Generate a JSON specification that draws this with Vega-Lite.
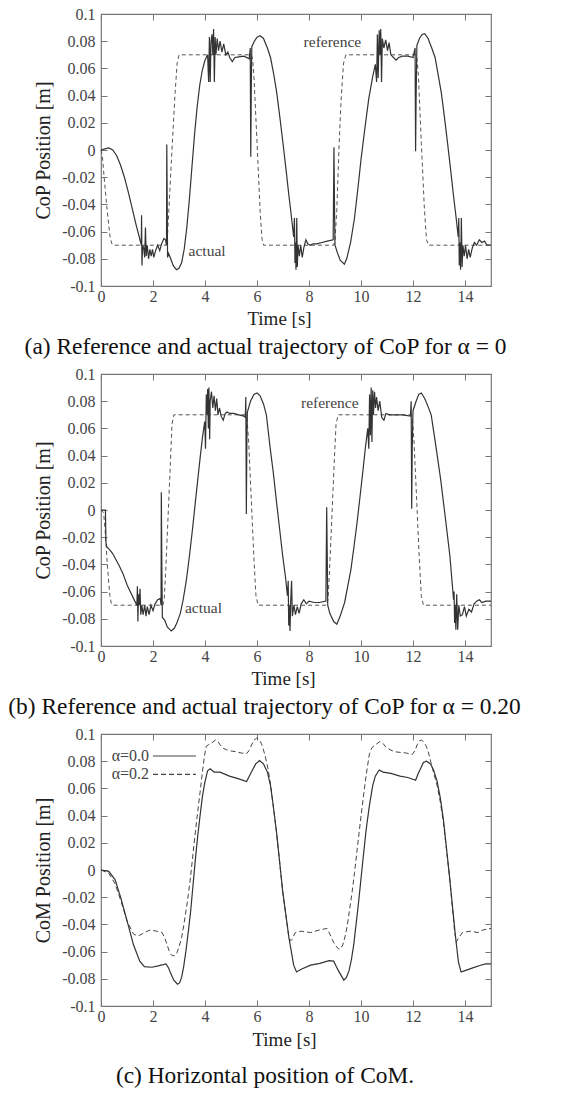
{
"$schema": "https://vega.github.io/schema/vega-lite/v6.json",
"padding": {"left": 7, "top": 5, "right": 5, "bottom": 5},
"spacing": 6,
"config": {
  "font": "Liberation Serif",
  "view": {"stroke": "#777", "strokeWidth": 1.2},
  "axis": {"labelFont": "Liberation Serif", "titleFont": "Liberation Serif", "labelFontSize": 16, "titleFontSize": 19, "labelColor": "#444", "titleColor": "#222", "titleFontWeight": "normal", "tickColor": "#777", "tickWidth": 1, "grid": false, "domain": false},
  "title": {"font": "Liberation Serif", "fontSize": 23.4, "fontWeight": "normal", "color": "#111"}
},
"datasets": {
"a_ref": [
{"t":0,"v":0},{"t":0.05,"v":-0.004},{"t":0.12,"v":-0.02},{"t":0.24,"v":-0.045},{"t":0.35,"v":-0.064},{"t":0.42,"v":-0.069},{"t":0.48,"v":-0.07},
{"t":2.5,"v":-0.07},{"t":2.55,"v":-0.066},{"t":2.61,"v":-0.044},{"t":2.73,"v":0.0},{"t":2.85,"v":0.042},{"t":2.93,"v":0.064},{"t":3.0,"v":0.07},
{"t":5.78,"v":0.07},{"t":5.83,"v":0.067},{"t":5.88,"v":0.055},{"t":6.0,"v":0.006},{"t":6.12,"v":-0.045},{"t":6.19,"v":-0.065},{"t":6.25,"v":-0.07},
{"t":8.95,"v":-0.07},{"t":9.0,"v":-0.066},{"t":9.07,"v":-0.044},{"t":9.15,"v":0.0},{"t":9.24,"v":0.039},{"t":9.33,"v":0.064},{"t":9.42,"v":0.07},
{"t":12.12,"v":0.07},{"t":12.16,"v":0.066},{"t":12.21,"v":0.054},{"t":12.32,"v":0.005},{"t":12.44,"v":-0.044},{"t":12.52,"v":-0.066},{"t":12.6,"v":-0.07},
{"t":15,"v":-0.07}
],
"a_act": [
{"t":0,"v":0},{"t":0.15,"v":0.0008},{"t":0.3,"v":0.0015},{"t":0.45,"v":0.0},{"t":0.6,"v":-0.004},{"t":0.75,"v":-0.011},{"t":0.9,"v":-0.02},{"t":1.05,"v":-0.031},{"t":1.2,"v":-0.043},{"t":1.35,"v":-0.055},{"t":1.5,"v":-0.066},{"t":1.55,"v":-0.07},
{"t":1.56,"v":-0.048},{"t":1.575,"v":-0.085},{"t":1.6,"v":-0.07},{"t":1.64,"v":-0.072},{"t":1.68,"v":-0.079},{"t":1.71,"v":-0.057},{"t":1.74,"v":-0.078},{"t":1.78,"v":-0.07},{"t":1.83,"v":-0.08},{"t":1.88,"v":-0.073},{"t":1.93,"v":-0.078},{"t":1.98,"v":-0.073},{"t":2.03,"v":-0.079},{"t":2.1,"v":-0.074},{"t":2.18,"v":-0.07},{"t":2.26,"v":-0.074},{"t":2.33,"v":-0.069},{"t":2.42,"v":-0.065},{"t":2.48,"v":-0.066},{"t":2.52,"v":-0.07},
{"t":2.53,"v":0.004},{"t":2.545,"v":-0.035},{"t":2.56,"v":-0.079},{"t":2.6,"v":-0.076},{"t":2.68,"v":-0.08},{"t":2.78,"v":-0.085},{"t":2.9,"v":-0.088},{"t":3.0,"v":-0.087},{"t":3.1,"v":-0.083},{"t":3.2,"v":-0.073},{"t":3.3,"v":-0.057},{"t":3.4,"v":-0.036},{"t":3.5,"v":-0.012},{"t":3.6,"v":0.012},{"t":3.7,"v":0.032},{"t":3.8,"v":0.048},{"t":3.9,"v":0.059},{"t":4.0,"v":0.066},{"t":4.1,"v":0.07},
{"t":4.14,"v":0.05},{"t":4.17,"v":0.083},{"t":4.2,"v":0.05},{"t":4.23,"v":0.079},{"t":4.27,"v":0.085},{"t":4.3,"v":0.07},{"t":4.33,"v":0.089},{"t":4.36,"v":0.05},{"t":4.39,"v":0.083},{"t":4.42,"v":0.07},{"t":4.47,"v":0.082},{"t":4.52,"v":0.073},{"t":4.58,"v":0.08},{"t":4.65,"v":0.072},{"t":4.72,"v":0.078},{"t":4.8,"v":0.07},{"t":4.88,"v":0.072},{"t":4.95,"v":0.068},{"t":5.05,"v":0.065},{"t":5.15,"v":0.068},{"t":5.3,"v":0.0685},{"t":5.5,"v":0.069},{"t":5.7,"v":0.067},
{"t":5.74,"v":0.075},{"t":5.76,"v":-0.005},{"t":5.78,"v":0.045},{"t":5.8,"v":0.076},{"t":5.9,"v":0.08},{"t":6.0,"v":0.083},{"t":6.12,"v":0.084},{"t":6.25,"v":0.082},{"t":6.4,"v":0.075},{"t":6.52,"v":0.068},{"t":6.65,"v":0.055},{"t":6.76,"v":0.042},{"t":6.88,"v":0.024},{"t":7.0,"v":0.005},{"t":7.12,"v":-0.015},{"t":7.23,"v":-0.034},{"t":7.33,"v":-0.05},{"t":7.41,"v":-0.064},
{"t":7.44,"v":-0.05},{"t":7.46,"v":-0.083},{"t":7.48,"v":-0.068},{"t":7.5,"v":-0.088},{"t":7.53,"v":-0.05},{"t":7.55,"v":-0.086},{"t":7.58,"v":-0.07},{"t":7.63,"v":-0.078},{"t":7.68,"v":-0.07},{"t":7.74,"v":-0.079},{"t":7.8,"v":-0.072},{"t":7.88,"v":-0.066},{"t":7.95,"v":-0.069},{"t":8.05,"v":-0.07},{"t":8.15,"v":-0.069},{"t":8.3,"v":-0.069},{"t":8.5,"v":-0.068},{"t":8.7,"v":-0.067},{"t":8.93,"v":-0.066},
{"t":8.96,"v":0.002},{"t":8.98,"v":-0.04},{"t":9.0,"v":-0.07},{"t":9.1,"v":-0.076},{"t":9.2,"v":-0.081},{"t":9.36,"v":-0.084},{"t":9.45,"v":-0.08},{"t":9.6,"v":-0.068},{"t":9.75,"v":-0.05},{"t":9.9,"v":-0.025},{"t":10.0,"v":-0.007},{"t":10.15,"v":0.016},{"t":10.3,"v":0.038},{"t":10.45,"v":0.054},{"t":10.55,"v":0.063},
{"t":10.6,"v":0.05},{"t":10.63,"v":0.085},{"t":10.66,"v":0.053},{"t":10.7,"v":0.088},{"t":10.73,"v":0.07},{"t":10.76,"v":0.089},{"t":10.79,"v":0.05},{"t":10.82,"v":0.082},{"t":10.88,"v":0.075},{"t":10.95,"v":0.081},{"t":11.02,"v":0.073},{"t":11.08,"v":0.079},{"t":11.15,"v":0.07},{"t":11.25,"v":0.068},{"t":11.35,"v":0.066},{"t":11.45,"v":0.068},{"t":11.6,"v":0.069},{"t":11.8,"v":0.069},{"t":12.0,"v":0.068},
{"t":12.08,"v":0.075},{"t":12.1,"v":-0.001},{"t":12.12,"v":0.04},{"t":12.15,"v":0.077},{"t":12.25,"v":0.082},{"t":12.35,"v":0.085},{"t":12.45,"v":0.0855},{"t":12.58,"v":0.082},{"t":12.72,"v":0.075},{"t":12.85,"v":0.068},{"t":12.97,"v":0.055},{"t":13.09,"v":0.042},{"t":13.21,"v":0.024},{"t":13.33,"v":0.005},{"t":13.45,"v":-0.015},{"t":13.56,"v":-0.034},{"t":13.66,"v":-0.05},{"t":13.74,"v":-0.064},
{"t":13.76,"v":-0.05},{"t":13.78,"v":-0.085},{"t":13.8,"v":-0.068},{"t":13.83,"v":-0.088},{"t":13.86,"v":-0.05},{"t":13.89,"v":-0.086},{"t":13.92,"v":-0.07},{"t":13.97,"v":-0.078},{"t":14.02,"v":-0.07},{"t":14.08,"v":-0.08},{"t":14.14,"v":-0.073},{"t":14.2,"v":-0.079},{"t":14.28,"v":-0.072},{"t":14.36,"v":-0.068},{"t":14.45,"v":-0.07},{"t":14.55,"v":-0.066},{"t":14.65,"v":-0.068},{"t":14.75,"v":-0.067},{"t":14.85,"v":-0.07},{"t":15,"v":-0.07}
],
"a_lab": [{"t":8.9,"v":0.0795,"label":"reference"},{"t":4.08,"v":-0.0746,"label":"actual"}],
"b_ref": [
{"t":0,"v":0},{"t":0.1,"v":-0.002},{"t":0.16,"v":-0.015},{"t":0.25,"v":-0.042},{"t":0.34,"v":-0.063},{"t":0.4,"v":-0.069},{"t":0.46,"v":-0.07},
{"t":2.38,"v":-0.07},{"t":2.43,"v":-0.066},{"t":2.49,"v":-0.044},{"t":2.58,"v":-0.005},{"t":2.67,"v":0.035},{"t":2.73,"v":0.063},{"t":2.8,"v":0.07},
{"t":5.56,"v":0.07},{"t":5.62,"v":0.066},{"t":5.68,"v":0.05},{"t":5.78,"v":0.008},{"t":5.88,"v":-0.035},{"t":5.96,"v":-0.063},{"t":6.04,"v":-0.07},
{"t":8.68,"v":-0.07},{"t":8.73,"v":-0.066},{"t":8.79,"v":-0.044},{"t":8.88,"v":-0.005},{"t":8.97,"v":0.035},{"t":9.04,"v":0.063},{"t":9.12,"v":0.07},
{"t":11.92,"v":0.07},{"t":11.98,"v":0.066},{"t":12.04,"v":0.05},{"t":12.14,"v":0.008},{"t":12.24,"v":-0.035},{"t":12.32,"v":-0.063},{"t":12.4,"v":-0.07},
{"t":15,"v":-0.07}
],
"b_act": [
{"t":0,"v":0},{"t":0.12,"v":0.0},{"t":0.17,"v":0.0},{"t":0.19,"v":-0.024},{"t":0.22,"v":-0.027},{"t":0.32,"v":-0.029},{"t":0.45,"v":-0.032},{"t":0.56,"v":-0.036},{"t":0.7,"v":-0.041},{"t":0.85,"v":-0.047},{"t":1.0,"v":-0.055},{"t":1.15,"v":-0.061},{"t":1.3,"v":-0.067},{"t":1.38,"v":-0.07},
{"t":1.4,"v":-0.056},{"t":1.42,"v":-0.082},{"t":1.44,"v":-0.062},{"t":1.47,"v":-0.07},{"t":1.5,"v":-0.058},{"t":1.53,"v":-0.077},{"t":1.57,"v":-0.07},{"t":1.62,"v":-0.077},{"t":1.68,"v":-0.07},{"t":1.73,"v":-0.078},{"t":1.78,"v":-0.071},{"t":1.85,"v":-0.077},{"t":1.92,"v":-0.07},{"t":2.0,"v":-0.074},{"t":2.08,"v":-0.069},{"t":2.18,"v":-0.066},{"t":2.28,"v":-0.065},{"t":2.31,"v":-0.07},
{"t":2.32,"v":0.013},{"t":2.34,"v":-0.04},{"t":2.36,"v":-0.079},{"t":2.45,"v":-0.081},{"t":2.55,"v":-0.086},{"t":2.7,"v":-0.089},{"t":2.82,"v":-0.087},{"t":2.92,"v":-0.083},{"t":3.05,"v":-0.076},{"t":3.16,"v":-0.066},{"t":3.28,"v":-0.052},{"t":3.4,"v":-0.034},{"t":3.52,"v":-0.014},{"t":3.63,"v":0.006},{"t":3.72,"v":0.022},{"t":3.81,"v":0.038},{"t":3.9,"v":0.053},{"t":3.99,"v":0.065},
{"t":4.02,"v":0.045},{"t":4.05,"v":0.085},{"t":4.08,"v":0.07},{"t":4.1,"v":0.089},{"t":4.13,"v":0.06},{"t":4.15,"v":0.09},{"t":4.18,"v":0.052},{"t":4.2,"v":0.08},{"t":4.25,"v":0.087},{"t":4.3,"v":0.075},{"t":4.35,"v":0.084},{"t":4.4,"v":0.073},{"t":4.45,"v":0.082},{"t":4.5,"v":0.07},{"t":4.56,"v":0.075},{"t":4.62,"v":0.069},{"t":4.7,"v":0.066},{"t":4.78,"v":0.071},{"t":4.85,"v":0.072},{"t":4.95,"v":0.071},{"t":5.1,"v":0.071},{"t":5.3,"v":0.07},{"t":5.5,"v":0.069},{"t":5.55,"v":0.068},
{"t":5.57,"v":0.083},{"t":5.59,"v":-0.003},{"t":5.61,"v":0.05},{"t":5.63,"v":0.072},{"t":5.75,"v":0.08},{"t":5.88,"v":0.085},{"t":6.0,"v":0.086},{"t":6.12,"v":0.084},{"t":6.25,"v":0.078},{"t":6.36,"v":0.07},{"t":6.51,"v":0.045},{"t":6.63,"v":0.027},{"t":6.75,"v":0.006},{"t":6.87,"v":-0.014},{"t":6.99,"v":-0.034},{"t":7.1,"v":-0.05},{"t":7.17,"v":-0.063},
{"t":7.2,"v":-0.052},{"t":7.22,"v":-0.085},{"t":7.24,"v":-0.07},{"t":7.27,"v":-0.089},{"t":7.3,"v":-0.065},{"t":7.33,"v":-0.052},{"t":7.36,"v":-0.078},{"t":7.42,"v":-0.07},{"t":7.48,"v":-0.077},{"t":7.55,"v":-0.071},{"t":7.62,"v":-0.076},{"t":7.7,"v":-0.069},{"t":7.8,"v":-0.066},{"t":7.9,"v":-0.069},{"t":8.0,"v":-0.067},{"t":8.2,"v":-0.068},{"t":8.4,"v":-0.068},{"t":8.65,"v":-0.067},
{"t":8.68,"v":0.002},{"t":8.7,"v":-0.03},{"t":8.72,"v":-0.07},{"t":8.8,"v":-0.076},{"t":8.95,"v":-0.082},{"t":9.07,"v":-0.084},{"t":9.2,"v":-0.078},{"t":9.37,"v":-0.068},{"t":9.5,"v":-0.055},{"t":9.61,"v":-0.044},{"t":9.73,"v":-0.027},{"t":9.85,"v":-0.009},{"t":9.97,"v":0.011},{"t":10.08,"v":0.03},{"t":10.17,"v":0.046},{"t":10.26,"v":0.06},
{"t":10.3,"v":0.045},{"t":10.33,"v":0.085},{"t":10.36,"v":0.055},{"t":10.39,"v":0.09},{"t":10.42,"v":0.05},{"t":10.45,"v":0.088},{"t":10.48,"v":0.07},{"t":10.52,"v":0.087},{"t":10.56,"v":0.075},{"t":10.6,"v":0.083},{"t":10.66,"v":0.073},{"t":10.72,"v":0.08},{"t":10.8,"v":0.068},{"t":10.88,"v":0.066},{"t":10.96,"v":0.071},{"t":11.1,"v":0.07},{"t":11.3,"v":0.07},{"t":11.6,"v":0.07},{"t":11.9,"v":0.069},
{"t":11.93,"v":0.08},{"t":11.95,"v":0.001},{"t":11.97,"v":0.045},{"t":12.0,"v":0.073},{"t":12.12,"v":0.08},{"t":12.22,"v":0.085},{"t":12.32,"v":0.086},{"t":12.45,"v":0.082},{"t":12.58,"v":0.076},{"t":12.7,"v":0.07},{"t":12.88,"v":0.047},{"t":13.06,"v":0.023},{"t":13.24,"v":-0.005},{"t":13.42,"v":-0.034},{"t":13.56,"v":-0.066},
{"t":13.58,"v":-0.06},{"t":13.6,"v":-0.083},{"t":13.62,"v":-0.07},{"t":13.65,"v":-0.088},{"t":13.68,"v":-0.062},{"t":13.72,"v":-0.088},{"t":13.76,"v":-0.07},{"t":13.82,"v":-0.078},{"t":13.9,"v":-0.077},{"t":13.98,"v":-0.071},{"t":14.05,"v":-0.078},{"t":14.15,"v":-0.073},{"t":14.25,"v":-0.075},{"t":14.35,"v":-0.069},{"t":14.45,"v":-0.067},{"t":14.55,"v":-0.066},{"t":14.65,"v":-0.068},{"t":14.8,"v":-0.067},{"t":15,"v":-0.067}
],
"b_lab": [{"t":8.8,"v":0.079,"label":"reference"},{"t":3.94,"v":-0.072,"label":"actual"}],
"c0": [
{"t":0,"v":0},{"t":0.3,"v":-0.001},{"t":0.54,"v":-0.007},{"t":0.77,"v":-0.021},{"t":1.01,"v":-0.038},{"t":1.25,"v":-0.055},{"t":1.49,"v":-0.067},{"t":1.67,"v":-0.071},{"t":1.96,"v":-0.0715},{"t":2.2,"v":-0.0705},{"t":2.5,"v":-0.069},{"t":2.6,"v":-0.072},{"t":2.68,"v":-0.076},{"t":2.8,"v":-0.081},{"t":2.94,"v":-0.084},{"t":3.02,"v":-0.083},{"t":3.1,"v":-0.079},{"t":3.18,"v":-0.071},{"t":3.27,"v":-0.059},{"t":3.36,"v":-0.045},{"t":3.45,"v":-0.03},{"t":3.54,"v":-0.011},{"t":3.63,"v":0.008},{"t":3.72,"v":0.025},{"t":3.81,"v":0.04},{"t":3.9,"v":0.054},{"t":3.99,"v":0.064},{"t":4.1,"v":0.073},{"t":4.2,"v":0.0745},{"t":4.35,"v":0.072},{"t":4.58,"v":0.072},{"t":4.94,"v":0.069},{"t":5.3,"v":0.067},{"t":5.6,"v":0.065},{"t":5.77,"v":0.0715},{"t":5.95,"v":0.078},{"t":6.1,"v":0.0805},{"t":6.25,"v":0.078},{"t":6.4,"v":0.072},{"t":6.52,"v":0.062},{"t":6.62,"v":0.048},{"t":6.75,"v":0.028},{"t":6.99,"v":-0.016},{"t":7.23,"v":-0.05},{"t":7.41,"v":-0.07},{"t":7.52,"v":-0.075},{"t":7.7,"v":-0.073},{"t":8.06,"v":-0.07},{"t":8.42,"v":-0.0686},{"t":8.77,"v":-0.0667},{"t":8.95,"v":-0.067},{"t":9.05,"v":-0.071},{"t":9.13,"v":-0.074},{"t":9.34,"v":-0.081},{"t":9.44,"v":-0.079},{"t":9.54,"v":-0.074},{"t":9.63,"v":-0.066},{"t":9.72,"v":-0.055},{"t":9.9,"v":-0.025},{"t":10.08,"v":0.0085},{"t":10.2,"v":0.03},{"t":10.32,"v":0.047},{"t":10.45,"v":0.062},{"t":10.55,"v":0.069},{"t":10.7,"v":0.0735},{"t":10.85,"v":0.072},{"t":11.15,"v":0.071},{"t":11.5,"v":0.069},{"t":11.8,"v":0.068},{"t":12.1,"v":0.066},{"t":12.2,"v":0.071},{"t":12.28,"v":0.074},{"t":12.4,"v":0.079},{"t":12.51,"v":0.08},{"t":12.6,"v":0.079},{"t":12.69,"v":0.0775},{"t":12.8,"v":0.073},{"t":12.93,"v":0.065},{"t":13.05,"v":0.053},{"t":13.17,"v":0.037},{"t":13.4,"v":-0.004},{"t":13.64,"v":-0.05},{"t":13.75,"v":-0.068},{"t":13.85,"v":-0.075},{"t":14.0,"v":-0.074},{"t":14.3,"v":-0.072},{"t":14.6,"v":-0.07},{"t":14.8,"v":-0.069},{"t":15,"v":-0.069}
],
"c2": [
{"t":0,"v":0},{"t":0.3,"v":-0.0024},{"t":0.54,"v":-0.01},{"t":0.77,"v":-0.023},{"t":1.01,"v":-0.038},{"t":1.25,"v":-0.047},{"t":1.4,"v":-0.0485},{"t":1.49,"v":-0.048},{"t":1.67,"v":-0.046},{"t":1.9,"v":-0.044},{"t":2.14,"v":-0.045},{"t":2.35,"v":-0.046},{"t":2.45,"v":-0.05},{"t":2.56,"v":-0.056},{"t":2.65,"v":-0.061},{"t":2.74,"v":-0.063},{"t":2.83,"v":-0.063},{"t":2.92,"v":-0.061},{"t":3.01,"v":-0.056},{"t":3.1,"v":-0.05},{"t":3.18,"v":-0.041},{"t":3.27,"v":-0.03},{"t":3.36,"v":-0.018},{"t":3.45,"v":-0.004},{"t":3.54,"v":0.012},{"t":3.63,"v":0.028},{"t":3.72,"v":0.043},{"t":3.81,"v":0.057},{"t":3.9,"v":0.072},{"t":3.98,"v":0.084},{"t":4.05,"v":0.091},{"t":4.12,"v":0.092},{"t":4.23,"v":0.093},{"t":4.4,"v":0.0955},{"t":4.5,"v":0.0945},{"t":4.58,"v":0.092},{"t":4.7,"v":0.0895},{"t":4.82,"v":0.0885},{"t":5.0,"v":0.0875},{"t":5.18,"v":0.087},{"t":5.4,"v":0.086},{"t":5.6,"v":0.0855},{"t":5.7,"v":0.088},{"t":5.77,"v":0.091},{"t":5.88,"v":0.0955},{"t":5.99,"v":0.097},{"t":6.1,"v":0.0955},{"t":6.19,"v":0.092},{"t":6.3,"v":0.085},{"t":6.43,"v":0.074},{"t":6.52,"v":0.063},{"t":6.62,"v":0.048},{"t":6.75,"v":0.028},{"t":6.99,"v":-0.016},{"t":7.23,"v":-0.05},{"t":7.3,"v":-0.052},{"t":7.35,"v":-0.051},{"t":7.47,"v":-0.046},{"t":7.7,"v":-0.045},{"t":8.06,"v":-0.046},{"t":8.42,"v":-0.044},{"t":8.69,"v":-0.043},{"t":8.8,"v":-0.047},{"t":8.89,"v":-0.051},{"t":9.0,"v":-0.055},{"t":9.13,"v":-0.058},{"t":9.22,"v":-0.058},{"t":9.3,"v":-0.055},{"t":9.4,"v":-0.048},{"t":9.48,"v":-0.04},{"t":9.57,"v":-0.028},{"t":9.66,"v":-0.016},{"t":9.75,"v":-0.002},{"t":9.84,"v":0.013},{"t":9.96,"v":0.033},{"t":10.08,"v":0.052},{"t":10.2,"v":0.07},{"t":10.32,"v":0.085},{"t":10.42,"v":0.09},{"t":10.55,"v":0.092},{"t":10.73,"v":0.0945},{"t":10.85,"v":0.093},{"t":10.97,"v":0.09},{"t":11.27,"v":0.087},{"t":11.74,"v":0.086},{"t":11.98,"v":0.085},{"t":12.08,"v":0.088},{"t":12.16,"v":0.092},{"t":12.25,"v":0.095},{"t":12.33,"v":0.0955},{"t":12.42,"v":0.094},{"t":12.51,"v":0.091},{"t":12.6,"v":0.086},{"t":12.69,"v":0.079},{"t":12.8,"v":0.071},{"t":12.93,"v":0.062},{"t":13.05,"v":0.05},{"t":13.17,"v":0.035},{"t":13.4,"v":-0.004},{"t":13.6,"v":-0.045},{"t":13.66,"v":-0.053},{"t":13.75,"v":-0.05},{"t":13.9,"v":-0.046},{"t":14.2,"v":-0.045},{"t":14.5,"v":-0.046},{"t":14.7,"v":-0.044},{"t":15,"v":-0.043}
],
"c_leg": [{"t":0.41,"t2":2.0,"t3":3.65,"v":0.0838,"label":"α=0.0","dash":"solid"},{"t":0.41,"t2":2.0,"t3":3.65,"v":0.0703,"label":"α=0.2","dash":"dashed"}]
},
"vconcat": [
{
  "width": 390, "height": 272,
  "title": {"text": "(a) Reference and actual trajectory of CoP for α = 0", "orient": "bottom", "dx": -30.5, "offset": 8},
  "resolve": {"axis": {"x": "independent", "y": "independent"}},
  "layer": [
    {"data": {"name": "a_ref"}, "mark": {"type": "line", "strokeDash": [4, 3], "color": "#555", "strokeWidth": 1},
     "encoding": {
       "x": {"field": "t", "type": "quantitative", "scale": {"domain": [0, 15], "nice": false}, "axis": {"orient": "bottom", "values": [0,2,4,6,8,10,12,14], "tickSize": -6, "labelPadding": 8, "title": "Time [s]", "titleX": 178, "titlePadding": 5, "labelFlush": false}},
       "y": {"field": "v", "type": "quantitative", "scale": {"domain": [-0.1, 0.1], "nice": false, "zero": false}, "axis": {"orient": "left", "values": [-0.1,-0.08,-0.06,-0.04,-0.02,0,0.02,0.04,0.06,0.08,0.1], "tickSize": -6, "labelPadding": 12, "title": "CoP Position [m]", "titleFontSize": 20, "titlePadding": 8, "labelExpr": "datum.value == 0 ? '0' : (datum.value < 0 ? '-' : '') + format(abs(datum.value), '.2~f')"}}
     }},
    {"data": {"name": "a_act"}, "mark": {"type": "line", "color": "#333", "strokeWidth": 1.2},
     "encoding": {
       "x": {"field": "t", "type": "quantitative", "axis": {"orient": "top", "values": [0,2,4,6,8,10,12,14], "tickSize": -6, "labels": false, "title": null}},
       "y": {"field": "v", "type": "quantitative", "axis": {"orient": "right", "values": [-0.1,-0.08,-0.06,-0.04,-0.02,0,0.02,0.04,0.06,0.08,0.1], "tickSize": -6, "labels": false, "title": null}}
     }},
    {"data": {"name": "a_lab"}, "mark": {"type": "text", "fontSize": 15.5, "color": "#444", "font": "Liberation Serif"},
     "encoding": {"x": {"field": "t", "type": "quantitative", "axis": null}, "y": {"field": "v", "type": "quantitative", "axis": null}, "text": {"field": "label"}}}
  ]
},
{
  "width": 390, "height": 272,
  "title": {"text": "(b) Reference and actual trajectory of CoP for α = 0.20", "orient": "bottom", "dx": -31.5, "offset": 8},
  "resolve": {"axis": {"x": "independent", "y": "independent"}},
  "layer": [
    {"data": {"name": "b_ref"}, "mark": {"type": "line", "strokeDash": [4, 3], "color": "#555", "strokeWidth": 1},
     "encoding": {
       "x": {"field": "t", "type": "quantitative", "scale": {"domain": [0, 15], "nice": false}, "axis": {"orient": "bottom", "values": [0,2,4,6,8,10,12,14], "tickSize": -6, "labelPadding": 8, "title": "Time [s]", "titleX": 182, "titlePadding": 5, "labelFlush": false}},
       "y": {"field": "v", "type": "quantitative", "scale": {"domain": [-0.1, 0.1], "nice": false, "zero": false}, "axis": {"orient": "left", "values": [-0.1,-0.08,-0.06,-0.04,-0.02,0,0.02,0.04,0.06,0.08,0.1], "tickSize": -6, "labelPadding": 12, "title": "CoP Position [m]", "titleFontSize": 20, "titlePadding": 8, "labelExpr": "datum.value == 0 ? '0' : (datum.value < 0 ? '-' : '') + format(abs(datum.value), '.2~f')"}}
     }},
    {"data": {"name": "b_act"}, "mark": {"type": "line", "color": "#333", "strokeWidth": 1.2},
     "encoding": {
       "x": {"field": "t", "type": "quantitative", "axis": {"orient": "top", "values": [0,2,4,6,8,10,12,14], "tickSize": -6, "labels": false, "title": null}},
       "y": {"field": "v", "type": "quantitative", "axis": {"orient": "right", "values": [-0.1,-0.08,-0.06,-0.04,-0.02,0,0.02,0.04,0.06,0.08,0.1], "tickSize": -6, "labels": false, "title": null}}
     }},
    {"data": {"name": "b_lab"}, "mark": {"type": "text", "fontSize": 15.5, "color": "#444", "font": "Liberation Serif"},
     "encoding": {"x": {"field": "t", "type": "quantitative", "axis": null}, "y": {"field": "v", "type": "quantitative", "axis": null}, "text": {"field": "label"}}}
  ]
},
{
  "width": 390, "height": 272,
  "title": {"text": "(c) Horizontal position of CoM.", "orient": "bottom", "dx": -31, "offset": 16},
  "resolve": {"axis": {"x": "independent", "y": "independent"}},
  "layer": [
    {"data": {"name": "c2"}, "mark": {"type": "line", "strokeDash": [5, 3], "color": "#444", "strokeWidth": 1},
     "encoding": {
       "x": {"field": "t", "type": "quantitative", "scale": {"domain": [0, 15], "nice": false}, "axis": {"orient": "bottom", "values": [0,2,4,6,8,10,12,14], "tickSize": -6, "labelPadding": 8, "title": "Time [s]", "titleX": 183, "titlePadding": 6, "labelFlush": false}},
       "y": {"field": "v", "type": "quantitative", "scale": {"domain": [-0.1, 0.1], "nice": false, "zero": false}, "axis": {"orient": "left", "values": [-0.1,-0.08,-0.06,-0.04,-0.02,0,0.02,0.04,0.06,0.08,0.1], "tickSize": -6, "labelPadding": 12, "title": "CoM Position [m]", "titleFontSize": 20, "titlePadding": 8, "labelExpr": "datum.value == 0 ? '0' : (datum.value < 0 ? '-' : '') + format(abs(datum.value), '.2~f')"}}
     }},
    {"data": {"name": "c0"}, "mark": {"type": "line", "color": "#333", "strokeWidth": 1.2},
     "encoding": {
       "x": {"field": "t", "type": "quantitative", "axis": {"orient": "top", "values": [0,2,4,6,8,10,12,14], "tickSize": -6, "labels": false, "title": null}},
       "y": {"field": "v", "type": "quantitative", "axis": {"orient": "right", "values": [-0.1,-0.08,-0.06,-0.04,-0.02,0,0.02,0.04,0.06,0.08,0.1], "tickSize": -6, "labels": false, "title": null}}
     }},
    {"data": {"name": "c_leg"}, "mark": {"type": "text", "fontSize": 16, "color": "#444", "font": "Liberation Serif", "align": "left"},
     "encoding": {"x": {"field": "t", "type": "quantitative", "axis": null}, "y": {"field": "v", "type": "quantitative", "axis": null}, "text": {"field": "label"}}},
    {"data": {"name": "c_leg"}, "mark": {"type": "rule", "color": "#444", "strokeWidth": 1.1},
     "encoding": {"x": {"field": "t2", "type": "quantitative", "axis": null}, "x2": {"field": "t3"}, "y": {"field": "v", "type": "quantitative", "axis": null},
       "strokeDash": {"field": "dash", "type": "nominal", "scale": {"domain": ["solid", "dashed"], "range": [[1, 0], [5, 3]]}, "legend": null}}}
  ]
}
]
}
